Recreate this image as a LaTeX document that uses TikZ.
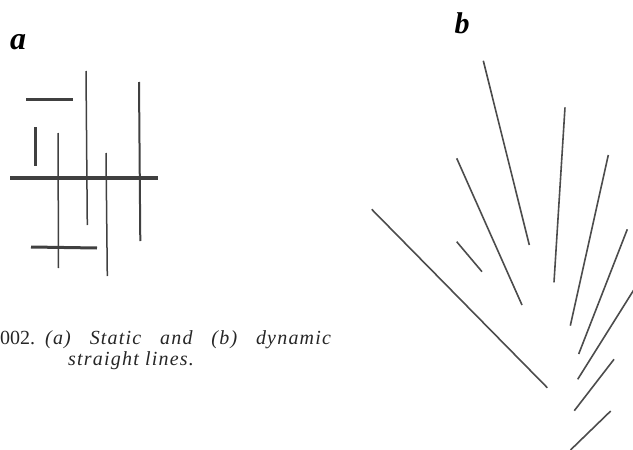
\documentclass[tikz,border=0pt]{standalone}
\usepackage{fontspec}
\setmainfont{Liberation Serif}
\newfontfamily\capfont[LetterSpace=6]{Liberation Serif}
\begin{document}
\begin{tikzpicture}[x=1pt,y=-1pt,
  ink/.style={draw=black!75,line cap=butt},
  thin/.style={ink,line width=1.5pt},
  mid/.style={ink,line width=3pt},
  thick/.style={ink,line width=4.5pt},
  dyn/.style={draw=black!70,line width=1.6pt},
  lbl/.style={inner sep=0pt,font=\bfseries\itshape},
  captxt/.style={inner sep=0pt,anchor=west,text=black!85,font=\capfont\fontsize{20}{21}\selectfont}]
\useasboundingbox (0,0) rectangle (633,450);
% panel a
\node[lbl,font=\fontsize{32}{32}\bfseries\itshape\selectfont] (la) at (18,42) {a};
\coordinate (a1s) at (26,99);  \coordinate (a1e) at (73,99);
\coordinate (a2s) at (35,127); \coordinate (a2e) at (35,166);
\coordinate (a3s) at (10,178); \coordinate (a3e) at (158,178);
\coordinate (a4s) at (58,133); \coordinate (a4e) at (58.5,268);
\coordinate (a5s) at (86,71);  \coordinate (a5e) at (87.3,225);
\coordinate (a6s) at (106,153);\coordinate (a6e) at (107.3,276);
\coordinate (a7s) at (139,82); \coordinate (a7e) at (140.3,241);
\coordinate (a8s) at (31,247); \coordinate (a8e) at (97,248);
\draw[thin] (a4s) -- (a4e);
\draw[thin] (a5s) -- (a5e);
\draw[thin] (a6s) -- (a6e);
\draw[ink,line width=2pt] (a7s) -- (a7e);
\draw[mid] (a1s) -- (a1e);
\draw[mid] (a2s) -- (a2e);
\draw[thick] (a3s) -- (a3e);
\draw[mid] (a8s) -- (a8e);
% caption
\node[captxt] (c1) at (0,340) {{\rmfamily 002.}\hspace{10pt}\makebox[287pt][s]{\textit{(a) Static and (b) dynamic}}};
\node[captxt] (c2) at (68,361) {\textit{straight lines.}};
% panel b
\node[lbl,font=\fontsize{30}{30}\bfseries\itshape\selectfont] (lb) at (462,23) {b};
\coordinate (bs1) at (483.3,60.7);  \coordinate (be1) at (529.3,245);
\coordinate (bs2) at (565,107.3);   \coordinate (be2) at (554,282.3);
\coordinate (bs3) at (608.3,155);   \coordinate (be3) at (570.3,325.7);
\coordinate (bs4) at (627.3,229.3); \coordinate (be4) at (578.7,354);
\coordinate (bs5) at (640,280);     \coordinate (be5) at (577.7,379.3);
\coordinate (bs6) at (614,359.3);   \coordinate (be6) at (574.3,410.7);
\coordinate (bs7) at (610.7,411);   \coordinate (be7) at (570.5,450);
\coordinate (bs8) at (456.7,158.3); \coordinate (be8) at (522,305);
\coordinate (bs9) at (456.7,241.7); \coordinate (be9) at (482,271.7);
\coordinate (bs10) at (371.7,209.3);\coordinate (be10) at (547.3,387.7);
\foreach \i in {1,...,10} {\draw[dyn] (bs\i) -- (be\i);}
\end{tikzpicture}
\end{document}
